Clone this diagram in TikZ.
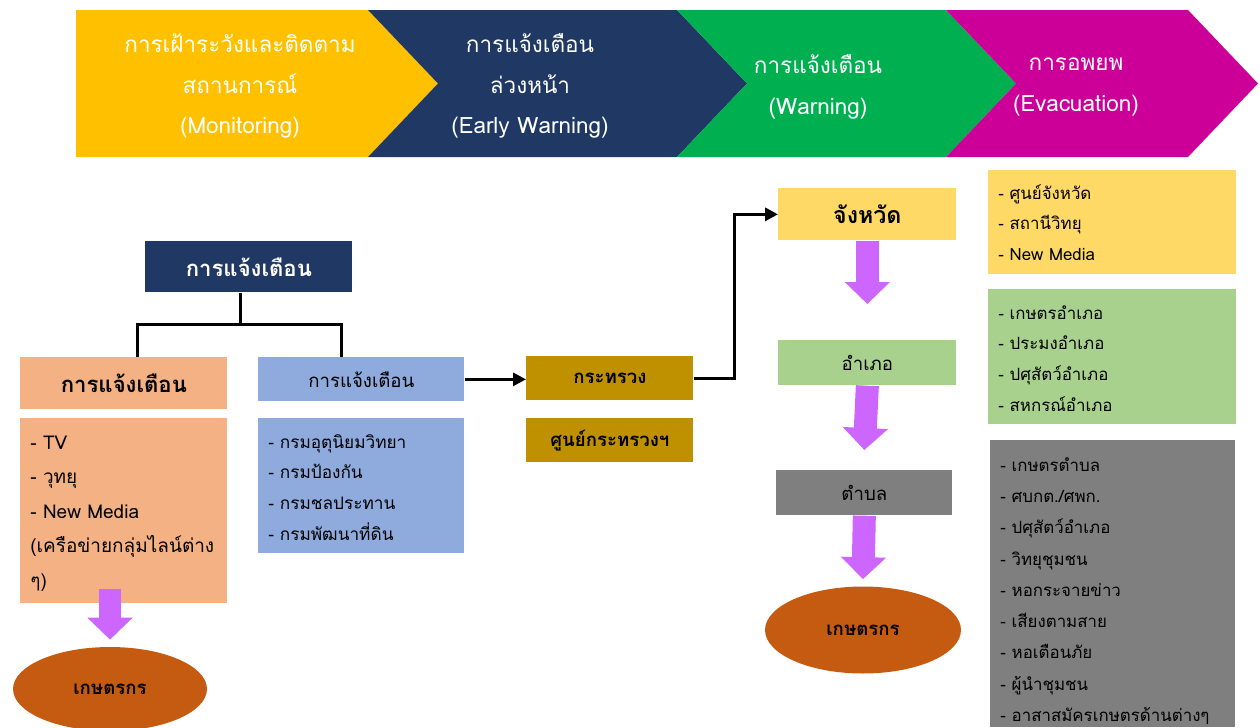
\documentclass[tikz,border=0pt]{standalone}
\usepackage{fontspec}
\setmainfont[Script=Thai]{Loma}
\usetikzlibrary{arrows.meta,calc,positioning,shapes.geometric}

\definecolor{monYellow}{HTML}{FFC000}
\definecolor{ewNavy}{HTML}{203864}
\definecolor{warnGreen}{HTML}{00B050}
\definecolor{evacMagenta}{HTML}{CC0099}
\definecolor{boxOrange}{HTML}{F4B183}
\definecolor{boxBlue}{HTML}{8FAADC}
\definecolor{boxGold}{HTML}{BF9000}
\definecolor{boxYellow}{HTML}{FFD966}
\definecolor{boxGreen}{HTML}{A9D18E}
\definecolor{boxGray}{HTML}{7F7F7F}
\definecolor{farmBrown}{HTML}{C55A11}
\definecolor{flowPurple}{HTML}{CC66FF}

\newcommand\bannerfont{\fontsize{12.8}{23.2}\selectfont}
\newcommand\headfont{\fontsize{12.6}{16}\selectfont\bfseries}
\newcommand\midfont{\fontsize{10.6}{14}\selectfont}

\tikzset{
  box/.style={draw=none, inner sep=0pt, anchor=north west},
  listtext/.style={inner sep=0pt, anchor=north west, align=left},
  bannertext/.style={text=white, align=center, font=\bannerfont},
  downarrow/.style={draw=flowPurple, line width=0.46cm, -{Triangle[width=0.88cm,length=0.44cm]}},
  link/.style={line width=0.06cm},
  farmer/.style={ellipse, fill=farmBrown, inner sep=0pt, font=\midfont\bfseries},
}

\begin{document}
\begin{tikzpicture}[x=0.02cm, y=-0.02cm]
  %%%%% START %%%%%
  \useasboundingbox (0,0) rectangle (1260,727);

  % banner
  \fill[monYellow] (76,10) -- (368,10) -- (438,83.5) -- (368,157) -- (76,157) -- cycle;
  \fill[ewNavy] (368,10) -- (677,10) -- (747,83.5) -- (677,157) -- (368,157) -- (438,83.5) -- cycle;
  \fill[warnGreen] (677,10) -- (946,10) -- (1016,83.5) -- (946,157) -- (677,157) -- (747,83.5) -- cycle;
  \fill[evacMagenta] (946,10) -- (1188,10) -- (1258,83.5) -- (1188,157) -- (946,157) -- (1016,83.5) -- cycle;

  \node[bannertext] (monitoring) at (240,86) {การเฝ้าระวังและติดตาม\\สถานการณ์\\(Monitoring)};
  \node[bannertext] (earlywarn) at (530,86) {การแจ้งเตือน\\ล่วงหน้า\\(Early Warning)};
  \node[bannertext] (warning) at (818,87) {การแจ้งเตือน\\(Warning)};
  \node[bannertext] (evacuation) at (1076,87) {การอพยพ\\(Evacuation)};

  % left tree
  \node[box, fill=ewNavy, text=white, font=\headfont, minimum width=4.14cm, minimum height=1.02cm] (topbox) at (145,241) {การแจ้งเตือน};
  \node[box, fill=boxOrange, font=\headfont, minimum width=4.14cm, minimum height=1.04cm] (leftbox) at (20,357) {การแจ้งเตือน};
  \node[box, fill=boxOrange, minimum width=4.14cm, minimum height=3.7cm] (leftlist) at (20,418) {};
  \node[listtext, font=\fontsize{10.8}{19.6}\selectfont] (leftitems) at ([shift={(10,7)}]leftlist.north west)
    {\strut- TV\\- วุทยุ\\- New Media\\(เครือข่ายกลุ่มไลน์ต่าง\\ๆ)};
  \node[box, fill=boxBlue, font=\midfont, minimum width=4.12cm, minimum height=0.88cm] (bluebox) at (258,357) {การแจ้งเตือน};
  \node[box, fill=boxBlue, minimum width=4.12cm, minimum height=2.7cm] (bluelist) at (258,418) {};
  \node[listtext, font=\fontsize{9.8}{17.6}\selectfont] (blueitems) at ([shift={(10,8)}]bluelist.north west)
    {\strut- กรมอุตุนิยมวิทยา\\- กรมป้องกัน\\- กรมชลประทาน\\- กรมพัฒนาที่ดิน};
  \node[farmer, minimum width=3.88cm, minimum height=1.68cm] (farmerL) at (110,689) {เกษตรกร};

  \draw[link] ([xshift=-0.17cm]topbox.south) -- ++(0,32) coordinate (fork);
  \draw[link] ([xshift=0.27cm]leftbox.north) |- (fork) -| ([xshift=-0.4cm]bluebox.north);
  \draw[downarrow] ($(leftlist.south -| farmerL.north)+(0,0.3cm)$) -- ([yshift=0.14cm]farmerL.north);

  % ministry
  \node[box, fill=boxGold, font=\midfont\bfseries, minimum width=3.34cm, minimum height=0.88cm] (ministry) at (526,356) {กระทรวง};
  \node[box, fill=boxGold, font=\midfont\bfseries, minimum width=3.34cm, minimum height=0.88cm] (mincenter) at (526,418) {ศูนย์กระทรวงฯ};
  \draw[link, -{Triangle[length=0.26cm,width=0.26cm]}] (bluebox.east) -- (bluebox.east -| ministry.west);

  % province chain
  \node[box, fill=boxYellow, font=\fontsize{13.2}{16}\selectfont\bfseries, minimum width=3.56cm, minimum height=1.04cm] (province) at (778,188) {จังหวัด};
  \node[box, fill=boxGreen, font=\midfont, minimum width=3.56cm, minimum height=0.9cm] (district) at (778,340) {อำเภอ};
  \node[box, fill=boxGray, font=\midfont, minimum width=3.52cm, minimum height=0.9cm] (subdistrict) at (776,470) {ตำบล};
  \node[farmer, minimum width=3.92cm, minimum height=1.74cm] (farmerR) at (863,630) {เกษตรกร};

  \draw[link, -{Triangle[length=0.26cm,width=0.26cm]}] (ministry.east) -- ++(41,0) |- (province.west);
  \draw[downarrow] (province.south) -- ([yshift=0.72cm]district.north);
  \draw[downarrow] (district.south) -- ([yshift=0.4cm]subdistrict.north);
  \draw[downarrow] (subdistrict.south) -- ([yshift=0.14cm]farmerR.north);

  % right lists
  \node[box, fill=boxYellow, minimum width=4.96cm, minimum height=2.08cm] (provlist) at (988,170) {};
  \node[listtext, font=\fontsize{9.6}{17.6}\selectfont] (provitems) at ([shift={(10,7)}]provlist.north west)
    {\strut- ศูนย์จังหวัด\\- สถานีวิทยุ\\- New Media};
  \node[box, fill=boxGreen, minimum width=4.96cm, minimum height=2.7cm] (distlist) at (988,289) {};
  \node[listtext, font=\fontsize{9.6}{17.6}\selectfont] (distitems) at ([shift={(10,8)}]distlist.north west)
    {\strut- เกษตรอำเภอ\\- ประมงอำเภอ\\- ปศุสัตว์อำเภอ\\- สหกรณ์อำเภอ};
  \node[box, fill=boxGray, minimum width=4.9cm, minimum height=5.74cm] (sublist) at (990,440) {};
  \node[listtext, font=\fontsize{9.6}{17.8}\selectfont] (subitems) at ([shift={(10,9)}]sublist.north west)
    {\strut- เกษตรตำบล\\- ศบกต./ศพก.\\- ปศุสัตว์อำเภอ\\- วิทยุชุมชน\\- หอกระจายข่าว\\- เสียงตามสาย\\- หอเตือนภัย\\- ผู้นำชุมชน\\- อาสาสมัครเกษตรด้านต่างๆ};

  %%%%% END %%%%%
\end{tikzpicture}
\end{document}
